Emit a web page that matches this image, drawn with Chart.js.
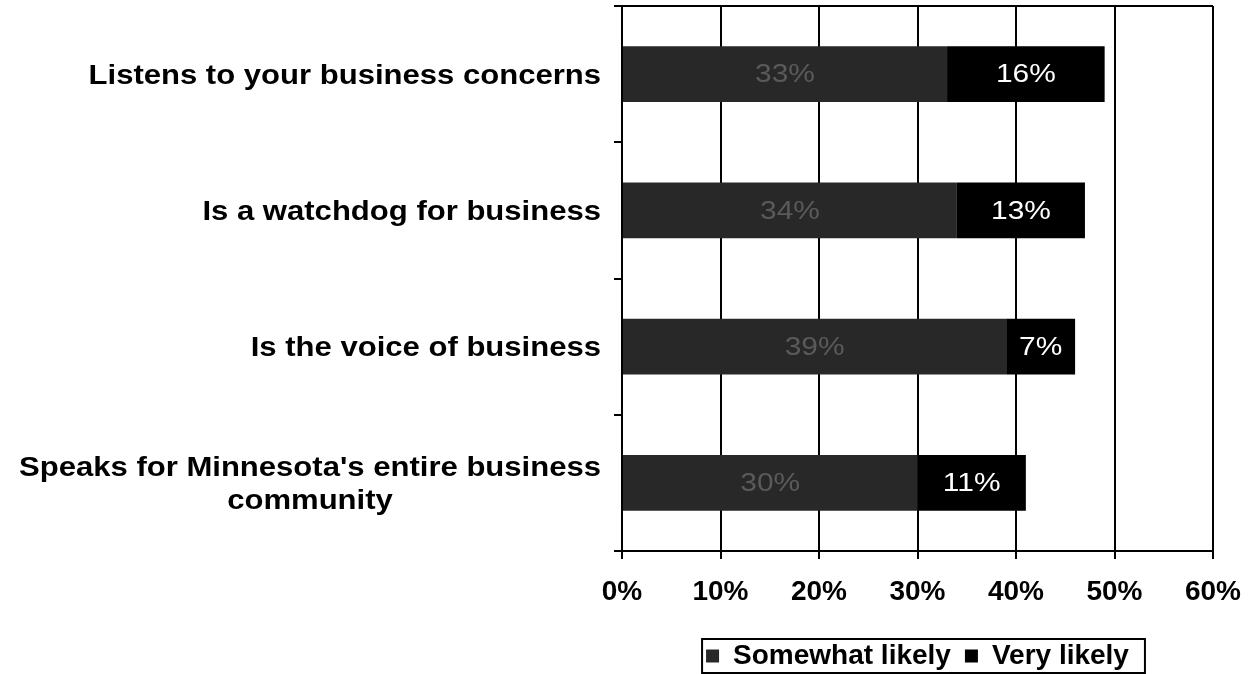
<!DOCTYPE html>
<html>
<head>
<meta charset="utf-8">
<title>Chamber perception</title>
<script src="https://cdn.jsdelivr.net/npm/chart.js@4.4.1/dist/chart.umd.min.js"></script>
<style>
  html, body { margin: 0; padding: 0; background: #fff; }
  canvas { display: block; }
</style>
</head>
<body>
<canvas id="chart" width="1252" height="674"></canvas>
<script>
// Survey answers, percent of respondents
const categories = [
    ['Listens to your business concerns'],
    ['Is a watchdog for business'],
    ['Is the voice of business'],
    ["Speaks for Minnesota's entire business", 'community']
];
const somewhatLikely = [33, 34, 39, 30];
const veryLikely = [16, 13, 7, 11];
const seriesNames = ['Somewhat likely', 'Very likely'];
const xTicks = [0, 10, 20, 30, 40, 50, 60];

const FONT = '"Liberation Sans", Arial, Helvetica, sans-serif';
const WIDE = 1.15; // the printed labels run a little wider than plain Arial

// draw text stretched horizontally around its anchor
function wideText(ctx, text, x, y, align) {
    ctx.save();
    ctx.translate(x, y);
    ctx.scale(WIDE, 1);
    ctx.textAlign = align;
    ctx.fillText(text, 0, 0);
    ctx.restore();
}

const decorations = {
    id: 'decorations',
    afterDraw(chart) {
        const { ctx, chartArea: area, scales: { y } } = chart;
        ctx.save();

        // top edge of the plot frame
        ctx.strokeStyle = '#000';
        ctx.lineWidth = 2;
        ctx.beginPath();
        ctx.moveTo(area.left, area.top);
        ctx.lineTo(area.right, area.top);
        ctx.stroke();

        // category names, right aligned; wrapped lines centred on each other
        ctx.fillStyle = '#000';
        ctx.font = 'bold 27px ' + FONT;
        ctx.textBaseline = 'alphabetic';
        const rightEdge = area.left - 21;
        const lineGap = 33;
        categories.forEach((lines, i) => {
            const cy = y.getPixelForValue(i);
            const first = cy - (lines.length - 1) * lineGap / 2 + 9.5;
            if (lines.length === 1) {
                wideText(ctx, lines[0], rightEdge, first, 'right');
            } else {
                const widest = Math.max(...lines.map(t => ctx.measureText(t).width)) * WIDE;
                lines.forEach((t, k) => wideText(ctx, t, rightEdge - widest / 2, first + k * lineGap, 'center'));
            }
        });

        // value labels inside each segment
        ctx.font = '26px ' + FONT;
        ctx.textBaseline = 'middle';
        const labelColors = ['#5a5a5a', '#fff'];
        chart.data.datasets.forEach((ds, di) => {
            chart.getDatasetMeta(di).data.forEach((bar, j) => {
                ctx.fillStyle = labelColors[di];
                wideText(ctx, ds.data[j] + '%', (bar.x + bar.base) / 2, bar.y + 1, 'center');
            });
        });

        // frame around the legend
        const boxes = chart.legend.legendHitBoxes;
        if (boxes && boxes.length) {
            const left = Math.min(...boxes.map(b => b.left)) - 4;
            const right = Math.max(...boxes.map(b => b.left + b.width)) + 16;
            const top = boxes[0].top - 3;
            const bottom = boxes[0].top + boxes[0].height + 3;
            ctx.strokeStyle = '#000';
            ctx.lineWidth = 2;
            ctx.strokeRect(left, top, right - left, bottom - top);
        }
        ctx.restore();
    }
};

new Chart(document.getElementById('chart'), {
    type: 'bar',
    data: {
        labels: categories,
        datasets: [
            {
                label: seriesNames[0],
                data: somewhatLikely,
                backgroundColor: '#282828',
                barPercentage: 0.41,
                categoryPercentage: 1
            },
            {
                label: seriesNames[1],
                data: veryLikely,
                backgroundColor: '#000',
                barPercentage: 0.41,
                categoryPercentage: 1
            }
        ]
    },
    options: {
        indexAxis: 'y',
        responsive: false,
        animation: false,
        devicePixelRatio: 1,
        layout: { padding: { top: 6, right: 39, bottom: -6, left: 0 } },
        scales: {
            x: {
                type: 'linear',
                stacked: true,
                min: xTicks[0],
                max: xTicks[xTicks.length - 1],
                afterBuildTicks: s => { s.ticks = xTicks.map(v => ({ value: v })); },
                afterFit: s => { s.height = 77; s.paddingRight = 0; },
                grid: { color: '#000', lineWidth: 2, tickLength: 8 },
                border: { color: '#000', width: 2 },
                ticks: {
                    color: '#000',
                    padding: 16,
                    maxRotation: 0,
                    font: { family: FONT, size: 28, weight: 'bold' },
                    callback: v => v + '%'
                }
            },
            y: {
                stacked: true,
                afterFit: s => { s.width = 622; },
                grid: { color: '#000', lineWidth: 2, tickLength: 8, drawOnChartArea: false, offset: true },
                border: { color: '#000', width: 2 },
                ticks: { display: false }
            }
        },
        plugins: {
            tooltip: { enabled: false },
            legend: {
                position: 'bottom',
                fullSize: false,
                labels: {
                    color: '#000',
                    boxWidth: 13,
                    boxHeight: 13,
                    padding: 14,
                    font: { family: FONT, size: 28, weight: 'bold' }
                }
            }
        }
    },
    plugins: [decorations]
});
</script>
</body>
</html>
